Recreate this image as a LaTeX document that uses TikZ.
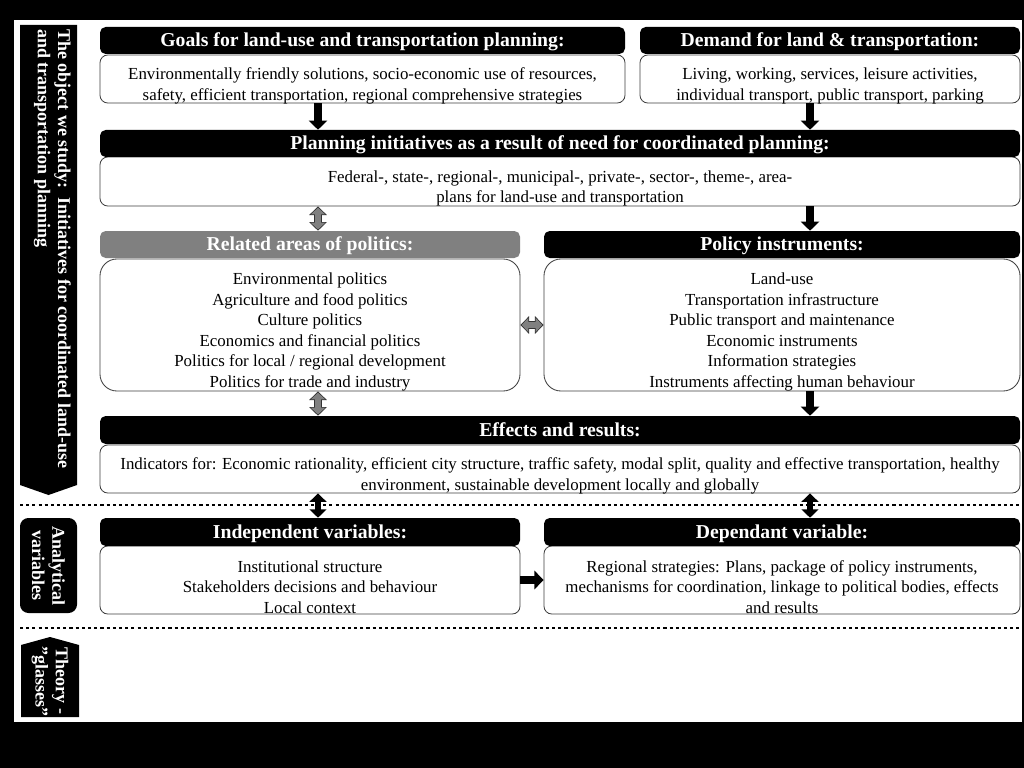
\documentclass[tikz,border=0pt]{standalone}
\usepackage{fontspec}
\setmainfont{Liberation Serif}
\usetikzlibrary{arrows.meta}

\begin{document}
\begin{tikzpicture}[x=0.025cm, y=-0.025cm,
  sz/.style 2 args={minimum width=#1*0.025cm, minimum height=#2*0.025cm},
  body/.style={draw=black!75, line width=0.6pt, rounded corners=5.5pt, fill=white, inner sep=0pt},
  txt/.style={align=center, inner sep=0pt, yshift=-5pt, font=\fontsize{12}{14.6}\selectfont},
  bigr/.style={rounded corners=12pt},
  hdr/.style={fill=black, rounded corners=4pt, inner sep=0pt, text=white,
    font=\fontsize{14}{16}\selectfont\bfseries, text depth=1pt},
  side/.style={text=white, inner sep=0pt, font=\fontsize{12.8}{14.4}\selectfont\bfseries},
  sep/.style={line width=1.8pt, dash pattern=on 2.2pt off 2.2pt},
  blk/.style={line width=5.5pt, -{Triangle[length=6.5pt, width=13pt]}},
  blk2/.style={line width=4.5pt, {Triangle[length=6pt, width=12pt]}-{Triangle[length=6pt, width=12pt]}},
  grayout/.style={black!80, line width=5.4pt, {Triangle[length=6.2pt, width=12.4pt]}-{Triangle[length=6.2pt, width=12.4pt]}},
  grayin/.style={black!50, line width=3.8pt, shorten >=0.9pt, shorten <=0.9pt,
    {Triangle[length=4.8pt, width=10pt]}-{Triangle[length=4.8pt, width=10pt]}}]

  % --- frame ---
  \fill[black] (0,0) rectangle (1024,768);
  \fill[white] (14,20) rectangle (1022,722);
  \useasboundingbox (0,0) rectangle (1024,768);

  % columns of the arrows
  \coordinate (colL) at (318,0);
  \coordinate (colR) at (810,0);

  % --- left side ---
  \fill[black] (20,25) -- (77,25) -- (77,485) -- (48.5,495) -- (20,485) -- cycle;
  \node[side, rotate=-90, anchor=north west, align=left] (object) at (71,29)
    {The object we study:\ \ Initiatives for coordinated land-use\\and transportation planning};

  \fill[black, rounded corners=6pt] (20,518) rectangle (77,613);
  \node[side, rotate=-90, align=center] (analytic) at (48.5,565.5) {Analytical\\variables};

  \fill[black] (21,645) -- (50,637) -- (79,645) -- (79,717) -- (21,717) -- cycle;
  \node[side, rotate=-90, align=center] (theory) at (50,681) {Theory -\\”glasses”};

  \draw[sep] (20,505) -- (1020,505);
  \draw[sep] (20,628) -- (1020,628);

  % --- goals and demand ---
  \node[body, sz={525}{48}] (goalsB) at (362.5,79) {};
  \node[txt] (goalsT) at (goalsB.center)
    {Environmentally friendly solutions, socio-economic use of resources,\\safety, efficient transportation, regional comprehensive strategies};
  \node[hdr, sz={525}{27}] (goalsH) at (362.5,40.5) {Goals for land-use and transportation planning:};
  \node[body, sz={380}{48}] (demB) at (830,79) {};
  \node[txt] (demT) at (demB.center)
    {Living, working, services, leisure activities,\\individual transport, public transport, parking};
  \node[hdr, sz={380}{27}] (demH) at (830,40.5) {Demand for land \& transportation:};

  % --- planning initiatives ---
  \node[body, sz={920}{49}] (planB) at (560,181.5) {};
  \node[txt] (planT) at (planB.center)
    {Federal-, state-, regional-, municipal-, private-, sector-, theme-, area-\\plans for land-use and transportation};
  \node[hdr, sz={920}{27}] (planH) at (560,143.5) {Planning initiatives as a result of need for coordinated planning:};

  % --- politics and instruments ---
  \node[body, bigr, sz={420}{132}] (relB) at (310,325) {};
  \node[txt] (relT) at (relB.center)
    {Environmental politics\\Agriculture and food politics\\Culture politics\\Economics and financial politics\\Politics for local / regional development\\Politics for trade and industry};
  \node[hdr, fill=black!50, sz={420}{27}] (relH) at (310,244.5) {Related areas of politics:};
  \node[body, bigr, sz={476}{132}] (polB) at (782,325) {};
  \node[txt] (polT) at (polB.center)
    {Land-use\\Transportation infrastructure\\Public transport and maintenance\\Economic instruments\\Information strategies\\Instruments affecting human behaviour};
  \node[hdr, sz={476}{27}] (polH) at (782,244.5) {Policy instruments:};

  % --- effects ---
  \node[body, sz={920}{48}] (effB) at (560,469) {};
  \node[txt] (effT) at (effB.center)
    {Indicators for: Economic rationality, efficient city structure, traffic safety, modal split, quality and effective transportation, healthy\\environment, sustainable development locally and globally};
  \node[hdr, sz={920}{28}] (effH) at (560,430) {Effects and results:};

  % --- analytical variables ---
  \node[body, sz={420}{68}] (indB) at (310,580) {};
  \node[txt] (indT) at (indB.center)
    {Institutional structure\\Stakeholders decisions and behaviour\\Local context};
  \node[hdr, sz={420}{28}] (indH) at (310,532) {Independent variables:};
  \node[body, sz={476}{68}] (depB) at (782,580) {};
  \node[txt] (depT) at (depB.center)
    {Regional strategies: Plans, package of policy instruments,\\mechanisms for coordination, linkage to political bodies, effects\\and results};
  \node[hdr, sz={476}{28}] (depH) at (782,532) {Dependant variable:};

  % --- arrows ---
  \draw[blk] (goalsB.south -| colL) -- (planH.north -| colL);
  \draw[blk] (demB.south -| colR) -- (planH.north -| colR);
  \draw[blk] (planB.south -| colR) -- (polH.north -| colR);
  \draw[blk] (polB.south -| colR) -- (effH.north -| colR);
  \draw[blk] (indB.east) -- (depB.west);
  \draw[blk2] (effB.south -| colL) -- (indH.north -| colL);
  \draw[blk2] (effB.south -| colR) -- (depH.north -| colR);
  \foreach \a/\b in {planB.south -| colL/relH.north -| colL, relB.east/polB.west, relB.south -| colL/effH.north -| colL} {
    \draw[grayout] (\a) -- (\b);
    \draw[grayin] (\a) -- (\b);
  }
\end{tikzpicture}
\end{document}
